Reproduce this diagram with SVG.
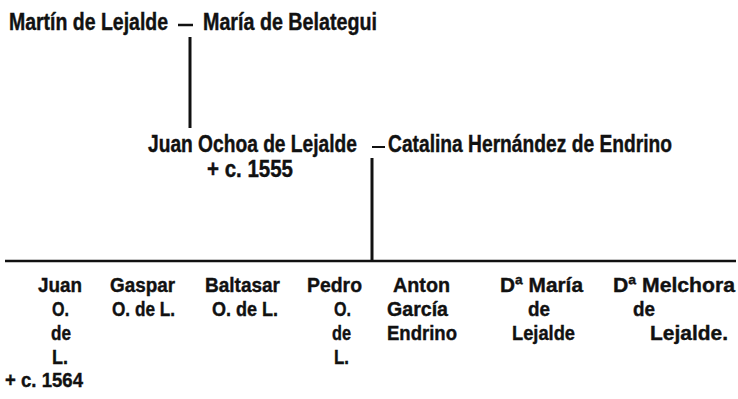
<svg xmlns="http://www.w3.org/2000/svg" width="738" height="399" viewBox="0 0 738 399">
<style>
text{font-family:"Liberation Sans",Arial,sans-serif;font-weight:bold;fill:#111;stroke:#111;stroke-width:0.4}
.p{font-size:23px}
.c{font-size:21px}
.ln{stroke:#111;fill:none;stroke-linecap:butt}
</style>
<rect width="738" height="399" fill="#fff"/>
<g id="connectors">
<line class="ln" x1="178" y1="25" x2="193" y2="25" stroke-width="2.5"/>
<line class="ln" x1="190" y1="37" x2="190" y2="128" stroke-width="3"/>
<line class="ln" x1="372" y1="147" x2="385" y2="147" stroke-width="2"/>
<line class="ln" x1="372" y1="158" x2="372" y2="261" stroke-width="3"/>
<line class="ln" x1="5" y1="261" x2="736" y2="261" stroke-width="2.5"/>
</g>
<g id="martin"><text class="p" x="9" y="30" textLength="159" lengthAdjust="spacingAndGlyphs">Martín de Lejalde</text></g>
<g id="maria-belategui"><text class="p" x="203" y="30" textLength="174" lengthAdjust="spacingAndGlyphs">María de Belategui</text></g>
<g id="juan-ochoa">
<text class="p" x="148" y="152" textLength="209" lengthAdjust="spacingAndGlyphs">Juan Ochoa de Lejalde</text>
<text class="p" x="207" y="177" textLength="86" lengthAdjust="spacingAndGlyphs">+ c. 1555</text>
</g>
<g id="catalina"><text class="p" x="388" y="152" textLength="284" lengthAdjust="spacingAndGlyphs">Catalina Hernández de Endrino</text></g>
<g id="juan">
<text class="c" x="38" y="292" textLength="44" lengthAdjust="spacingAndGlyphs">Juan</text>
<text class="c" x="52" y="316" textLength="17" lengthAdjust="spacingAndGlyphs">O.</text>
<text class="c" x="51" y="340" textLength="20" lengthAdjust="spacingAndGlyphs">de</text>
<text class="c" x="52" y="364" textLength="16" lengthAdjust="spacingAndGlyphs">L.</text>
<text class="c" x="5" y="387" textLength="78" lengthAdjust="spacingAndGlyphs">+ c. 1564</text>
</g>
<g id="gaspar">
<text class="c" x="110" y="292" textLength="65" lengthAdjust="spacingAndGlyphs">Gaspar</text>
<text class="c" x="112" y="316" textLength="63" lengthAdjust="spacingAndGlyphs">O. de L.</text>
</g>
<g id="baltasar">
<text class="c" x="205" y="292" textLength="75" lengthAdjust="spacingAndGlyphs">Baltasar</text>
<text class="c" x="212" y="316" textLength="66" lengthAdjust="spacingAndGlyphs">O. de L.</text>
</g>
<g id="pedro">
<text class="c" x="307" y="292" textLength="55" lengthAdjust="spacingAndGlyphs">Pedro</text>
<text class="c" x="334" y="316" textLength="17" lengthAdjust="spacingAndGlyphs">O.</text>
<text class="c" x="332" y="340" textLength="19" lengthAdjust="spacingAndGlyphs">de</text>
<text class="c" x="334" y="364" textLength="15" lengthAdjust="spacingAndGlyphs">L.</text>
</g>
<g id="anton">
<text class="c" x="393" y="292" textLength="57" lengthAdjust="spacingAndGlyphs">Anton</text>
<text class="c" x="387" y="316" textLength="61" lengthAdjust="spacingAndGlyphs">García</text>
<text class="c" x="387" y="340" textLength="70" lengthAdjust="spacingAndGlyphs">Endrino</text>
</g>
<g id="da-maria">
<text class="c" x="500" y="292" textLength="83" lengthAdjust="spacingAndGlyphs">Dª María</text>
<text class="c" x="528" y="316" textLength="22" lengthAdjust="spacingAndGlyphs">de</text>
<text class="c" x="512" y="340" textLength="63" lengthAdjust="spacingAndGlyphs">Lejalde</text>
</g>
<g id="da-melchora">
<text class="c" x="613" y="292" textLength="122" lengthAdjust="spacingAndGlyphs">Dª Melchora</text>
<text class="c" x="633" y="316" textLength="22" lengthAdjust="spacingAndGlyphs">de</text>
<text class="c" x="650" y="340" textLength="78" lengthAdjust="spacingAndGlyphs">Lejalde.</text>
</g>
</svg>
